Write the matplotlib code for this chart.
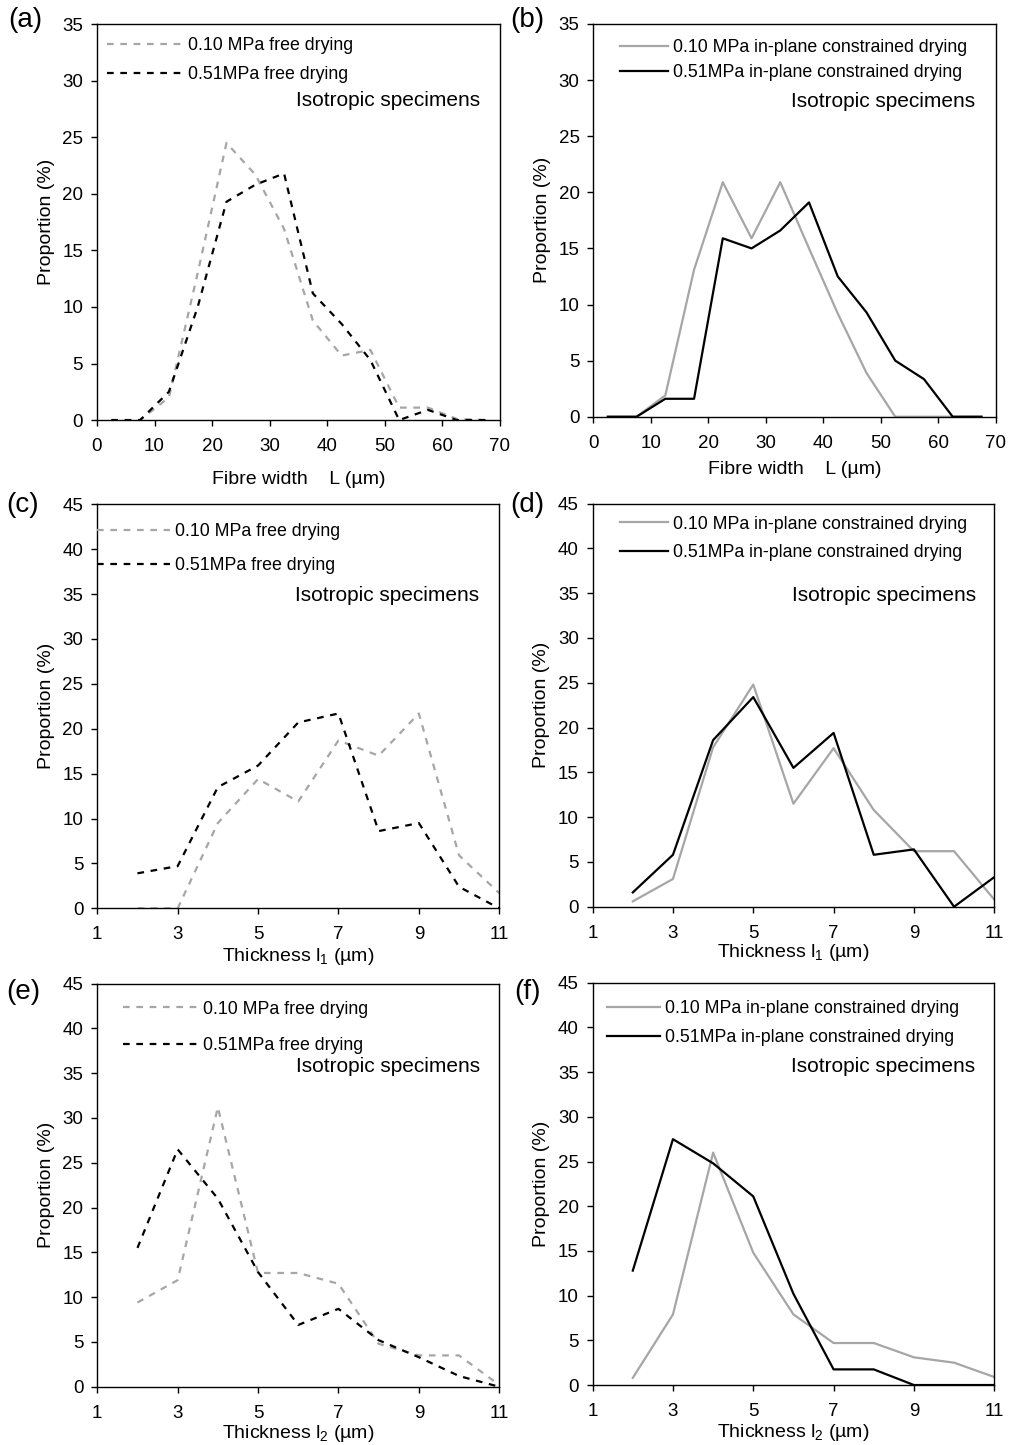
import matplotlib
matplotlib.use("Agg")
import matplotlib.pyplot as plt

plt.rcParams['font.family'] = ['Liberation Sans', 'DejaVu Sans']
plt.rcParams['mathtext.fontset'] = 'custom'
plt.rcParams['mathtext.rm'] = 'Liberation Sans'

# fibre width classes (um) and thickness classes (um)
width_x = [2.5, 7.5, 12.5, 17.5, 22.5, 27.5, 32.5, 37.5, 42.5, 47.5, 52.5, 57.5, 62.5, 67.5]
thick_x = [2, 3, 4, 5, 6, 7, 8, 9, 10, 11]

# (a) fibre width, free drying
a_010 = [0, 0, 2.0, 13.0, 24.5, 21.7, 16.9, 8.8, 5.7, 6.2, 1.1, 1.1, 0.1, 0]
a_051 = [0, 0, 2.5, 10.0, 19.3, 20.8, 21.8, 11.2, 8.5, 5.3, 0, 0.9, 0, 0]
# (b) fibre width, in-plane constrained drying
b_010 = [0, 0, 1.9, 13.1, 20.9, 15.9, 20.9, 15.0, 9.2, 3.9, 0, 0, 0, 0]
b_051 = [0, 0, 1.6, 1.6, 15.9, 15.0, 16.6, 19.1, 12.5, 9.3, 5.0, 3.35, 0, 0]
# (c) thickness l1, free drying
c_010 = [0, 0, 9.5, 14.4, 11.9, 18.7, 17.0, 21.7, 5.9, 1.7]
c_051 = [3.9, 4.7, 13.5, 15.9, 20.7, 21.7, 8.6, 9.5, 2.4, 0]
# (d) thickness l1, in-plane constrained drying
d_010 = [0.6, 3.1, 17.8, 24.8, 11.5, 17.7, 10.8, 6.2, 6.2, 0.8]
d_051 = [1.6, 5.8, 18.6, 23.4, 15.5, 19.4, 5.8, 6.4, 0, 3.3]
# (e) thickness l2, free drying
e_010 = [9.4, 11.9, 31.2, 12.7, 12.7, 11.5, 4.8, 3.5, 3.5, 0.2]
e_051 = [15.5, 26.5, 21.0, 12.8, 6.9, 8.7, 5.2, 3.3, 1.2, 0]
# (f) thickness l2, in-plane constrained drying
f_010 = [0.8, 7.9, 26.0, 14.8, 7.9, 4.7, 4.7, 3.1, 2.5, 0.9]
f_051 = [12.8, 27.5, 24.8, 21.1, 10.2, 1.75, 1.75, 0, 0, 0]

free_labels = ["0.10 MPa free drying", "0.51MPa free drying"]
cons_labels = ["0.10 MPa in-plane constrained drying", "0.51MPa in-plane constrained drying"]
width_ticks = [0, 10, 20, 30, 40, 50, 60, 70]
thick_ticks = [1, 3, 5, 7, 9, 11]

GRAY = '#a6a6a6'

fig = plt.figure(figsize=(10.11, 14.45), dpi=100)

# rect = [left, bottom, width, height]; leg = (x0, ytop, handlelength, labelspacing)
panels = [
    dict(rect=[0.0959, 0.7093, 0.3986, 0.274], tag='(a)', tagxy=(25, 20),
         x=width_x, y1=a_010, y2=a_051, dashed=True, labels=free_labels,
         xlim=(0, 70), xt=width_ticks, ymax=35, xlabel='Fibre width    L (µm)',
         leg=(0.025, 0.968, 4.27, 0.70), iso=(0.95, 0.808), xly=-0.128),
    dict(rect=[0.587, 0.7116, 0.398, 0.2718], tag='(b)', tagxy=(527, 20),
         x=width_x, y1=b_010, y2=b_051, dashed=False, labels=cons_labels,
         xlim=(0, 70), xt=width_ticks, ymax=35, xlabel='Fibre width    L (µm)',
         leg=(0.066, 0.961, 2.7, 0.42), iso=(0.948, 0.802), xly=-0.113),
    dict(rect=[0.0962, 0.3714, 0.3976, 0.2796], tag='(c)', tagxy=(23, 505),
         x=thick_x, y1=c_010, y2=c_051, dashed=True, labels=free_labels,
         xlim=(1, 11), xt=thick_ticks, ymax=45,
         xlabel=r'Thickness $\mathregular{l_1}$ (µm)',
         leg=(0.0, 0.954, 4.1, 0.98), iso=(0.95, 0.775), xly=-0.094),
    dict(rect=[0.5862, 0.3725, 0.3972, 0.279], tag='(d)', tagxy=(527, 505),
         x=thick_x, y1=d_010, y2=d_051, dashed=False, labels=cons_labels,
         xlim=(1, 11), xt=thick_ticks, ymax=45,
         xlabel=r'Thickness $\mathregular{l_1}$ (µm)',
         leg=(0.068, 0.970, 2.7, 0.65), iso=(0.955, 0.773), xly=-0.087),
    dict(rect=[0.0962, 0.0403, 0.3976, 0.279], tag='(e)', tagxy=(23, 992),
         x=thick_x, y1=e_010, y2=e_051, dashed=True, labels=free_labels,
         xlim=(1, 11), xt=thick_ticks, ymax=45,
         xlabel=r'Thickness $\mathregular{l_2}$ (µm)',
         leg=(0.064, 0.958, 4.2, 1.1), iso=(0.953, 0.794), xly=-0.091),
    dict(rect=[0.5862, 0.0415, 0.3972, 0.2784], tag='(f)', tagxy=(527, 992),
         x=thick_x, y1=f_010, y2=f_051, dashed=False, labels=cons_labels,
         xlim=(1, 11), xt=thick_ticks, ymax=45,
         xlabel=r'Thickness $\mathregular{l_2}$ (µm)',
         leg=(0.036, 0.956, 3.0, 0.65), iso=(0.953, 0.791), xly=-0.091),
]

for p in panels:
    ax = fig.add_axes(p['rect'])
    if p['dashed']:
        ax.plot(p['x'], p['y1'], color=GRAY, lw=1.6, ls=(0, (3, 3)), label=p['labels'][0])
        ax.plot(p['x'], p['y2'], color='black', lw=1.6, ls=(0, (3, 3)), label=p['labels'][1])
    else:
        ax.plot(p['x'], p['y1'], color=GRAY, lw=1.6, label=p['labels'][0])
        ax.plot(p['x'], p['y2'], color='black', lw=1.6, label=p['labels'][1])

    ax.set_xlim(*p['xlim'])
    ax.set_ylim(0, p['ymax'])
    ax.set_xticks(p['xt'])
    ax.set_yticks(range(0, p['ymax'] + 1, 5))
    ax.tick_params(axis='both', direction='out', length=4, width=1, labelsize=13.5)
    ax.tick_params(axis='x', pad=9)
    ax.tick_params(axis='y', pad=6)
    for s in ax.spines.values():
        s.set_linewidth(1)
        s.set_color('black')

    ax.set_ylabel('Proportion (%)', fontsize=14)
    ax.yaxis.set_label_coords(-0.105, 0.5)
    ax.set_xlabel(p['xlabel'], fontsize=14)
    ax.xaxis.set_label_coords(0.5, p['xly'])

    x0, ytop, hl, ls = p['leg']
    ax.legend(loc='upper left', bbox_to_anchor=(x0, ytop), frameon=False,
              fontsize=12.8, handlelength=hl, handletextpad=0.28, labelspacing=ls,
              borderpad=0, borderaxespad=0)
    ax.text(p['iso'][0], p['iso'][1], 'Isotropic specimens', transform=ax.transAxes,
            ha='right', va='center', fontsize=15)

    fig.text(p['tagxy'][0] / 1011, 1 - p['tagxy'][1] / 1445, p['tag'],
             ha='center', va='center', fontsize=20)

fig.savefig('out.png', dpi=100)
